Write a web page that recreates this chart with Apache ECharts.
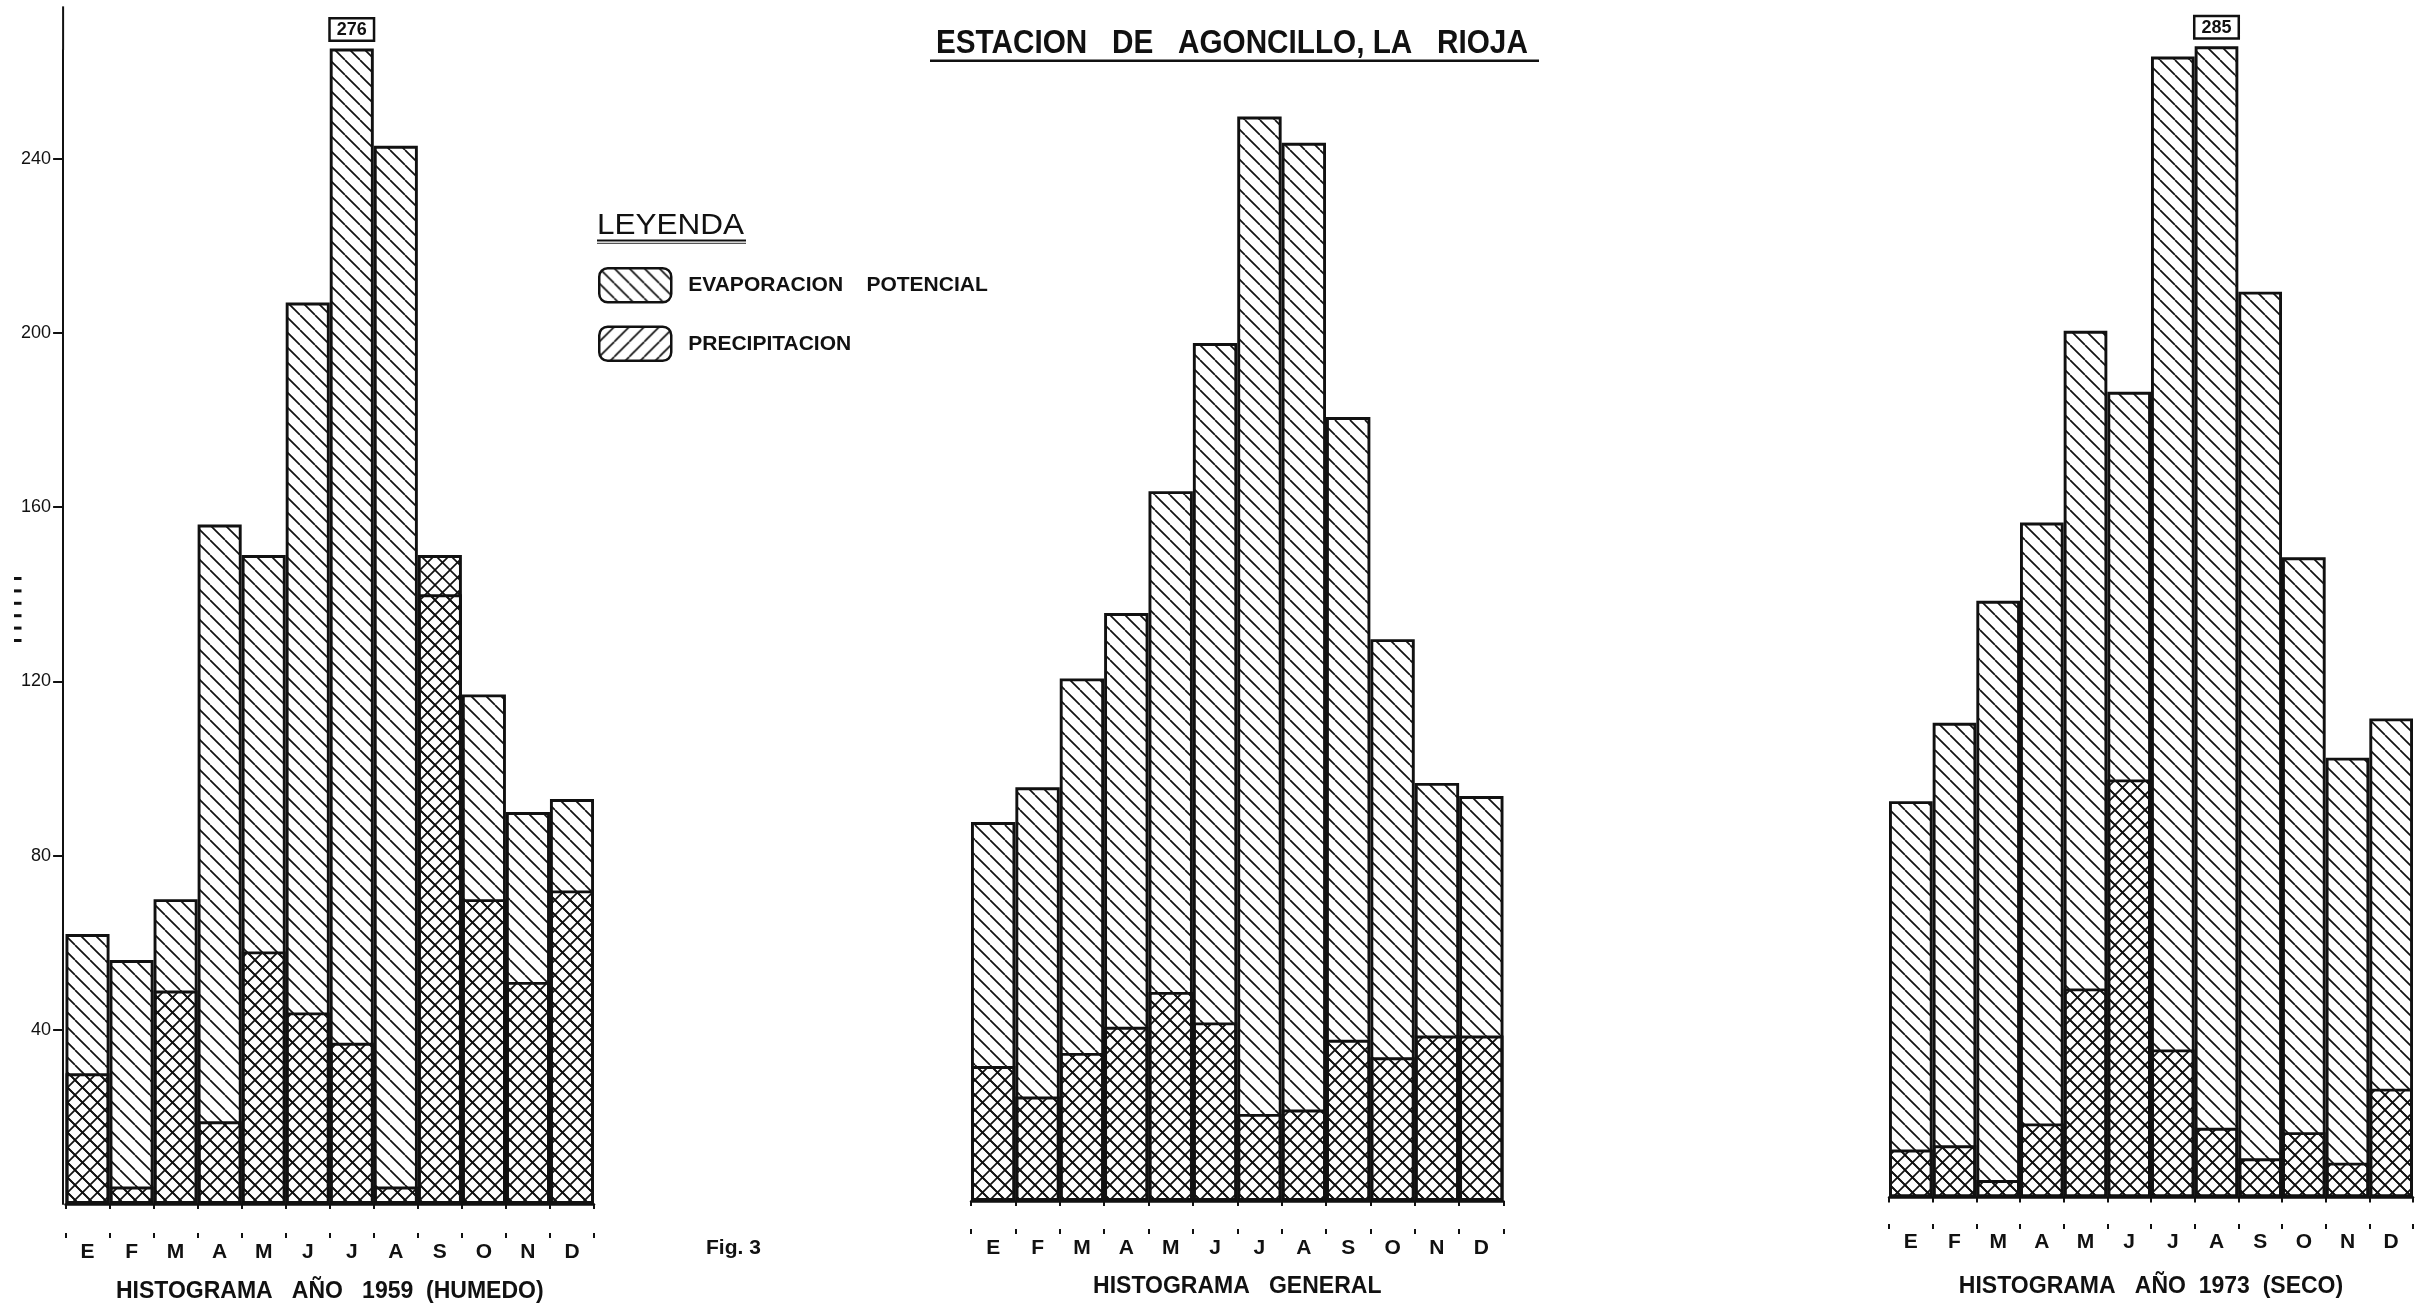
<!DOCTYPE html>
<html>
<head>
<meta charset="utf-8">
<title>Estacion de Agoncillo, La Rioja</title>
<script src="https://cdn.jsdelivr.net/npm/echarts@6/dist/echarts.min.js"></script>
<style>
  html, body { margin: 0; padding: 0; background: #fff; }
  #chart { width: 2434px; height: 1310px; }
</style>
</head>
<body>
<div id="chart"></div>
<script>
// Monthly values (mm) for the Agoncillo station
const months = ['E', 'F', 'M', 'A', 'M', 'J', 'J', 'A', 'S', 'O', 'N', 'D'];

const evap1959 = [62, 56, 70, 156, 149, 207, 276, 243, 140, 117, 90, 93];
const prec1959 = [30, 4, 49, 19, 58, 44, 37, 4, 149, 70, 51, 72];

const evapGeneral = [87, 95, 120, 135, 163, 197, 249, 243, 180, 129, 96, 93];
const precGeneral = [31, 24, 34, 40, 48, 41, 20, 21, 37, 33, 38, 38];

const evap1973 = [91, 109, 137, 155, 199, 185, 262, 285, 208, 147, 101, 110];
const prec1973 = [11, 12, 4, 17, 48, 96, 34, 16, 9, 15, 8, 25];

const yTicks = [40, 80, 120, 160, 200, 240];

const EVAP = 'EVAPORACION    POTENCIAL';
const PREC = 'PRECIPITACION';

const FONT = '"Liberation Sans", Arial, sans-serif';
const INK = '#111';

// Hatch tiles: "\" for evaporation, "/" for the legend key of precipitation,
// and both directions where precipitation is drawn over evaporation.
function hatch(dirs, bg) {
  const s = 15;
  const c = document.createElement('canvas');
  c.width = s; c.height = s;
  const ctx = c.getContext('2d');
  if (bg) { ctx.fillStyle = bg; ctx.fillRect(0, 0, s, s); }
  ctx.strokeStyle = INK;
  ctx.lineWidth = 1.7;
  dirs.forEach(d => {
    for (let k = -1; k <= 1; k++) {
      ctx.beginPath();
      if (d === 'back') { ctx.moveTo(k * s, 0); ctx.lineTo(k * s + s, s); }
      else { ctx.moveTo(k * s, s); ctx.lineTo(k * s + s, 0); }
      ctx.stroke();
    }
  });
  return { image: c, repeat: 'repeat' };
}
const evapFill = hatch(['back'], '#fff');
const precFill = hatch(['back', 'fwd'], null);
const precKey = hatch(['fwd'], null);

// Panel layout (pixels) and vertical scale
const pxPerUnit = 4.355;
const panels = [
  { title: 'HISTOGRAMA   AÑO   1959  (HUMEDO)', evap: evap1959, prec: prec1959,
    left: 65.5, width: 528.5, bottom: 1204, yMax: 265, axisOffset: 34, labelMargin: 4, nameGap: 42 },
  { title: 'HISTOGRAMA   GENERAL', evap: evapGeneral, prec: precGeneral,
    left: 971, width: 532.5, bottom: 1201, yMax: 265, axisOffset: 33, labelMargin: 4, nameGap: 41 },
  { title: 'HISTOGRAMA   AÑO  1973  (SECO)', evap: evap1973, prec: prec1973,
    left: 1889, width: 524, bottom: 1197.5, yMax: 264, axisOffset: 31.5, labelMargin: 3, nameGap: 46 }
];
const yAxisOffset = 2.4;
const yAxisTop = 275;

const grids = [], xAxes = [], yAxes = [], series = [];

panels.forEach((p, i) => {
  const h = p.yMax * pxPerUnit;
  grids.push({ left: p.left, width: p.width, top: p.bottom - h, height: h,
               containLabel: false, outerBoundsMode: 'none' });

  const axisBase = {
    type: 'category', data: months, gridIndex: i, position: 'bottom',
    offset: p.axisOffset, boundaryGap: true, silent: true
  };
  // main x axis: line, outer ticks, month labels and panel caption
  xAxes.push(Object.assign({}, axisBase, {
    axisLine: { show: true, lineStyle: { color: INK, width: 2.5 } },
    axisTick: { show: true, length: 5, lineStyle: { color: INK, width: 2 } },
    axisLabel: { show: true, color: INK, fontSize: 21, fontWeight: 'bold',
                 fontFamily: FONT, margin: p.labelMargin },
    splitLine: { show: false },
    name: p.title, nameLocation: 'middle', nameGap: p.nameGap,
    nameTextStyle: { color: INK, fontSize: 23, fontWeight: 'bold', fontFamily: FONT }
  }));
  // companion axis giving the ticks their upper half
  xAxes.push(Object.assign({}, axisBase, {
    axisLine: { show: false },
    axisTick: { show: true, inside: true, length: 5, lineStyle: { color: INK, width: 2 } },
    axisLabel: { show: false },
    splitLine: { show: false }
  }));

  yAxes.push({
    type: 'value', gridIndex: i, min: 0, max: p.yMax, show: i === 0,
    offset: yAxisOffset, silent: true,
    axisLine: { show: true, lineStyle: { color: INK, width: 2 } },
    axisTick: { show: true, length: 10, customValues: yTicks, lineStyle: { color: INK, width: 2 } },
    axisLabel: { show: true, customValues: yTicks, color: INK, fontSize: 18,
                 fontFamily: FONT, margin: 12 },
    splitLine: { show: false }
  });

  const barCommon = {
    type: 'bar', xAxisIndex: i * 2, yAxisIndex: i,
    barWidth: '100%', barGap: '-100%', barCategoryGap: 0,
    silent: true, animation: false, clip: true,
    emphasis: { disabled: true }
  };
  // evaporation bars taller than the axis are cut at the top and carry their value
  series.push(Object.assign({}, barCommon, {
    name: EVAP, z: 2,
    itemStyle: { color: evapFill, borderColor: INK, borderWidth: 2.9 },
    label: {
      show: false, position: 'top', distance: 9, formatter: '{c}',
      color: INK, fontSize: 18, fontWeight: 'bold', fontFamily: FONT,
      backgroundColor: '#fff', borderColor: INK, borderWidth: 2.5, padding: [2, 6, 0, 6]
    },
    data: p.evap.map(v => v > p.yMax ? { value: v, label: { show: true } } : v)
  }));
  series.push(Object.assign({}, barCommon, {
    name: PREC, z: 3,
    itemStyle: { color: precFill, borderColor: INK, borderWidth: 2.9 },
    data: p.prec.slice()
  }));
});

const chart = echarts.init(document.getElementById('chart'), null, { renderer: 'canvas' });

const option = {
  backgroundColor: '#fff',
  animation: false,
  grid: grids,
  xAxis: xAxes,
  yAxis: yAxes,
  series: series,
  legend: {
    show: true, orient: 'vertical', left: 598, top: 267, padding: 0,
    itemWidth: 72, itemHeight: 34, itemGap: 22, icon: 'roundRect',
    selectedMode: false,
    itemStyle: { borderColor: INK, borderWidth: 2.5 },
    textStyle: { color: INK, fontSize: 21, fontWeight: 'bold', fontFamily: FONT,
                 padding: [0, 0, 0, 12] },
    data: [
      { name: EVAP },
      { name: PREC, itemStyle: { color: precKey } }
    ]
  }
};
chart.setOption(option);

// y axis line continues above the plotting area
const yTopPx = chart.convertToPixel({ yAxisIndex: 0 }, yAxisTop);
const yGridTopPx = chart.convertToPixel({ yAxisIndex: 0 }, panels[0].yMax);
const yAxisX = panels[0].left - yAxisOffset;

const marks = [];
for (let k = 0; k < 6; k++) {
  marks.push({ type: 'rect', silent: true,
               shape: { x: 14, y: 577 + k * 12.4, width: 7.5, height: 3 },
               style: { fill: INK } });
}

chart.setOption({
  graphic: [
    { type: 'line', silent: true,
      shape: { x1: yAxisX, y1: yTopPx, x2: yAxisX, y2: yGridTopPx },
      style: { stroke: INK, lineWidth: 2 } },
    // main heading, underlined
    { type: 'text', silent: true, x: 936, y: 44, scaleX: 0.9,
      style: { text: 'ESTACION   DE   AGONCILLO, LA   RIOJA',
               font: 'bold 33px ' + FONT, fill: INK,
               align: 'left', verticalAlign: 'middle',
               textAlign: 'left', textVerticalAlign: 'middle' } },
    { type: 'rect', silent: true, shape: { x: 930, y: 59.5, width: 609, height: 2.5 },
      style: { fill: INK } },
    // legend heading, double underline
    { type: 'text', silent: true, x: 597, y: 226, scaleX: 1.05,
      style: { text: 'LEYENDA', font: 'normal 30px ' + FONT, fill: INK,
               align: 'left', verticalAlign: 'middle',
               textAlign: 'left', textVerticalAlign: 'middle' } },
    { type: 'rect', silent: true, shape: { x: 597, y: 239.5, width: 149, height: 2 },
      style: { fill: INK } },
    { type: 'rect', silent: true, shape: { x: 597, y: 242.8, width: 149, height: 1.2 },
      style: { fill: '#555' } },
    // figure number
    { type: 'text', silent: true, x: 706, y: 1248,
      style: { text: 'Fig. 3', font: 'bold 21px ' + FONT, fill: INK,
               align: 'left', verticalAlign: 'middle',
               textAlign: 'left', textVerticalAlign: 'middle' } }
  ].concat(marks)
});
</script>
</body>
</html>
